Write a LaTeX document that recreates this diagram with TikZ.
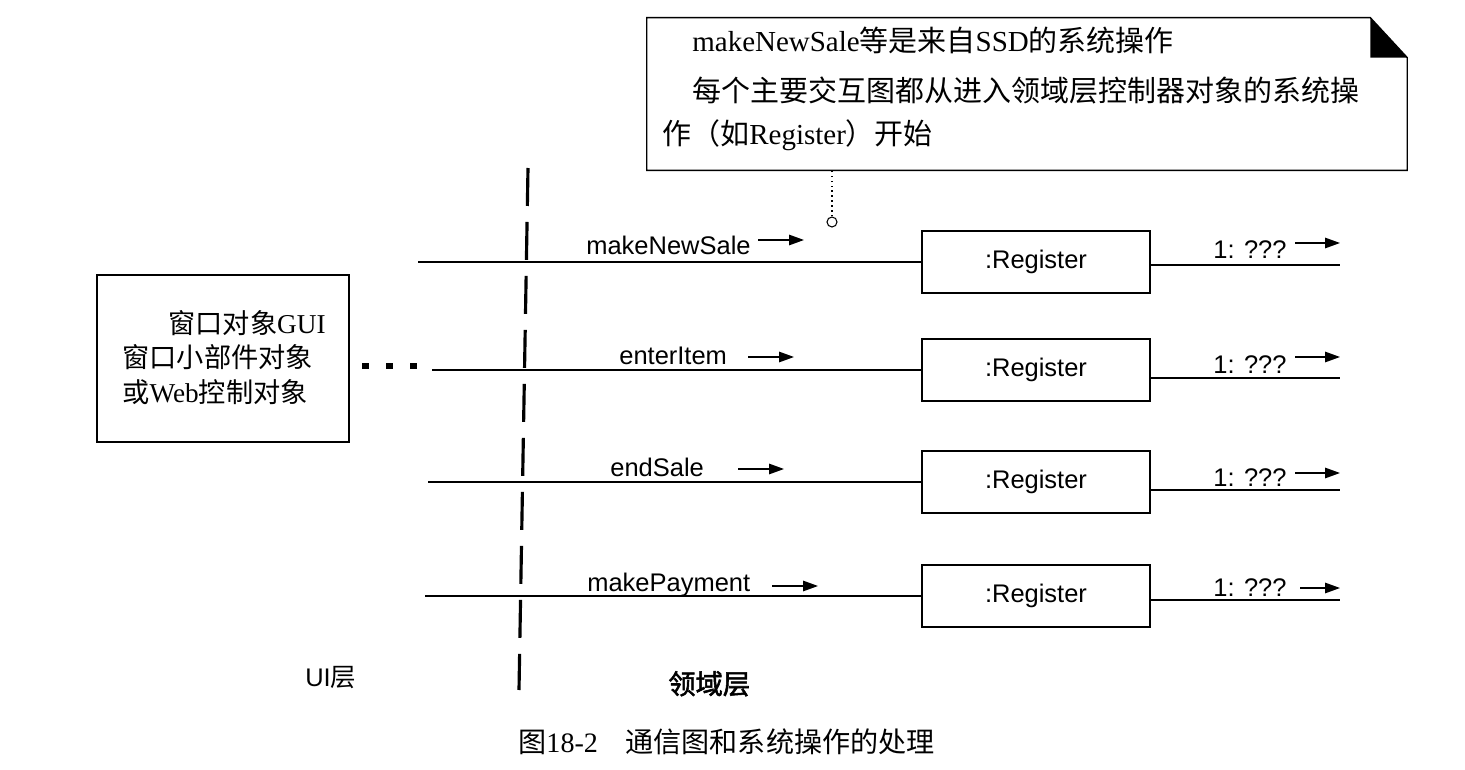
\documentclass[tikz,border=0pt]{standalone}
\usepackage{fontspec}
\setmainfont{Liberation Serif}
\setsansfont{Liberation Sans}
\newfontfamily\cjk{Noto Sans CJK SC}
\newfontfamily\cjkb[FakeBold=2]{Noto Sans CJK SC}
\newcommand\zh[1]{{\cjk #1}}
\usetikzlibrary{arrows.meta}
\begin{document}
\begin{tikzpicture}[x=0.02cm,y=-0.02cm,
  lbl/.style={font=\sffamily\fontsize{14.5}{16}\selectfont, inner sep=0, anchor=base west},
  regbox/.style={draw, line width=0.8pt, minimum width=4.56cm, minimum height=1.24cm, inner sep=0,
    font=\sffamily\fontsize{14.5}{16}\selectfont},
  msg/.style={line width=0.8pt},
  dirarrow/.style={line width=0.8pt, -{Triangle[length=0.3cm,width=0.21cm]}},
  notetext/.style={inner sep=0, anchor=base west, font=\fontsize{16.5}{18}\selectfont},
  guitext/.style={inner sep=0, font=\fontsize{15.5}{17}\selectfont},
  layer/.style={inner sep=0, anchor=base west, font=\sffamily\fontsize{14.5}{16}\selectfont},
]
\useasboundingbox (0,0) rectangle (1465,770);

% note
\node (note) [minimum width=15.2cm, minimum height=3.04cm, inner sep=0] at (1027,94) {};
\draw[line width=0.8pt] (note.north west) -- ([xshift=-0.74cm]note.north east)
  -- ([yshift=-0.8cm]note.north east) -- (note.south east) -- (note.south west) -- cycle;
\fill ([xshift=-0.74cm]note.north east) -- ([xshift=-0.74cm,yshift=-0.8cm]note.north east)
  -- ([yshift=-0.8cm]note.north east) -- cycle;
\node[notetext] (n1) at (692,52) {makeNewSale\zh{等是来自}SSD\zh{的系统操作}};
\node[notetext] (n2) at (692,102) {\zh{每个主要交互图都从进入领域层控制器对象的系统操}};
\node[notetext] (n3) at (662,145) {\zh{作（如}Register\zh{）开始}};
\node (circ) [draw, circle, line width=0.6pt, minimum size=0.2cm, inner sep=0] at (832,222) {};
\draw[dotted, line width=0.8pt] (circ) -- (circ |- note.south);

% GUI box
\node (gui) [draw, line width=0.8pt, minimum width=5.04cm, minimum height=3.34cm, inner sep=0] at (223,358.5) {};
\node[guitext, anchor=base east] (g1) at (326,334) {\zh{窗口对象}GUI};
\node[guitext, anchor=base west] (g2) at (122,368) {\zh{窗口小部件对象}};
\node[guitext, anchor=base west] (g3) at (122,402) {\zh{或}Web\zh{控制对象}};
\foreach \x/\n in {365/d1,389/d2,413/d3}
  \node[fill, minimum size=0.14cm, inner sep=0] (\n) at (\x,366) {};

% dashed layer boundary
\coordinate (dtop) at (528,168);
\coordinate (dbot) at (519,690);
\draw[line width=1.8pt, dash pattern=on 0.76cm off 0.32cm] (dtop) -- (dbot);

% rows
\foreach \i/\y/\sx/\lab/\lx/\ly/\ax/\ay/\ry/\rb/\rax/\ray in {
  1/262/418/makeNewSale/586/255/758/240/265/259/1295/243,
  2/370/432/enterItem/619/365/748/357/378/374/1295/357,
  3/482/428/endSale/610/477/738/469/490/486/1295/473,
  4/596/425/makePayment/587/591/772/586/600/596/1300/588}{
  \node[regbox] (reg\i) at (1036,\y) {:Register};
  \coordinate (s\i) at (\sx,\y);
  \draw[msg] (s\i) -- (reg\i.west);
  \node[lbl] (lab\i) at (\lx,\ly) {\lab};
  \coordinate (a\i) at (\ax,\ay);
  \coordinate (b\i) at ({\ax+46},\ay);
  \draw[dirarrow] (a\i) -- (b\i);
  \coordinate (e\i) at (1340,\ry);
  \draw[msg] (reg\i.east |- e\i) -- (e\i);
  \node[lbl] (q\i) at (1213,\rb) {1: ???};
  \coordinate (ra\i) at (\rax,\ray);
  \coordinate (rb\i) at (1340,\ray);
  \draw[dirarrow] (ra\i) -- (rb\i);
}

% layer labels
\node[layer] (ui) at (305,686) {UI\zh{层}};
\node[layer, font=\cjkb\fontsize{15.5}{17}\selectfont] (dom) at (668,694) {领域层};

% caption
\node[inner sep=0, anchor=base west, font=\fontsize{16}{18}\selectfont] (cap) at (518,752)
  {\zh{图}18-2\hspace{0.55cm}\zh{通信图和系统操作的处理}};
\end{tikzpicture}
\end{document}
